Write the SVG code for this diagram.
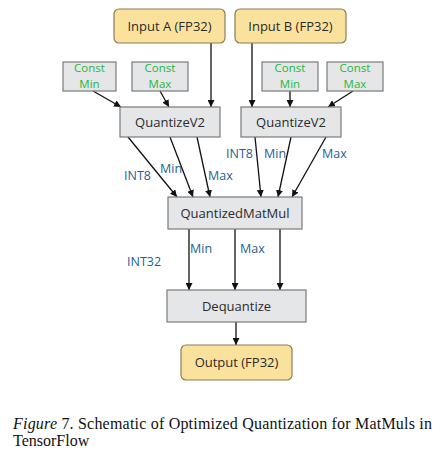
<svg xmlns="http://www.w3.org/2000/svg" width="447" height="464" viewBox="0 0 447 464">
<style>
.io{fill:#fbe29c;stroke:#8a7d5c;stroke-width:1.2}
.op{fill:#e4e6e8;stroke:#7a7a7a;stroke-width:1.2}
.t{font-family:"Open Sans",sans-serif;font-size:13px;fill:#2b2b2b;text-anchor:middle}
.g{font-family:"Open Sans",sans-serif;font-size:11.5px;fill:#1fb83a;text-anchor:middle}
.l{font-family:"Open Sans",sans-serif;font-size:12.5px;fill:#255f95}
.c{font-family:"Liberation Serif",serif;font-size:16px;fill:#111}
.e{stroke:#111;stroke-width:1.3;fill:none;marker-end:url(#a)}
</style>
<defs>
<marker id="a" viewBox="0 0 10 10" refX="10" refY="5" markerWidth="7" markerHeight="7" markerUnits="userSpaceOnUse" orient="auto">
<path d="M0,0 L10,5 L0,10 z" fill="#111"/>
</marker>
</defs>
<rect width="447" height="464" fill="#fff"/>
<g id="connectors">
<line class="e" x1="93" y1="91" x2="121" y2="107"/>
<line class="e" x1="160" y1="91" x2="169" y2="107"/>
<line class="e" x1="211" y1="43" x2="211" y2="107"/>
<line class="e" x1="252" y1="43" x2="252" y2="107"/>
<line class="e" x1="290" y1="91" x2="290" y2="107"/>
<line class="e" x1="353" y1="91" x2="328" y2="107"/>
<line class="e" x1="128" y1="137" x2="177" y2="197"/>
<line class="e" x1="170" y1="137" x2="193" y2="197"/>
<line class="e" x1="197" y1="137" x2="210" y2="197"/>
<line class="e" x1="255" y1="137" x2="261" y2="197"/>
<line class="e" x1="291" y1="137" x2="278" y2="197"/>
<line class="e" x1="326" y1="137" x2="292" y2="197"/>
<line class="e" x1="189" y1="229" x2="189" y2="290"/>
<line class="e" x1="235" y1="229" x2="235" y2="290"/>
<line class="e" x1="280" y1="229" x2="280" y2="290"/>
<line class="e" x1="236" y1="322" x2="236" y2="345"/>
<text class="l" x="124" y="180">INT8</text>
<text class="l" x="160" y="173">Min</text>
<text class="l" x="208" y="180">Max</text>
<text class="l" x="226" y="158">INT8</text>
<text class="l" x="264" y="158">Min</text>
<text class="l" x="322" y="158">Max</text>
<text class="l" x="190" y="253">Min</text>
<text class="l" x="240" y="253">Max</text>
<text class="l" x="127" y="266">INT32</text>
</g>
<g id="inputA"><rect class="io" x="114" y="9" width="111" height="34" rx="5"/><text class="t" x="169.5" y="31">Input A (FP32)</text></g>
<g id="inputB"><rect class="io" x="235" y="9" width="111" height="34" rx="5"/><text class="t" x="290.5" y="31">Input B (FP32)</text></g>
<g id="constMinL"><rect class="op" x="63" y="62" width="53" height="29"/><text class="g" x="89.5" y="72">Const</text><text class="g" x="89.5" y="88">Min</text></g>
<g id="constMaxL"><rect class="op" x="132" y="62" width="56" height="29"/><text class="g" x="160" y="72">Const</text><text class="g" x="160" y="88">Max</text></g>
<g id="constMinR"><rect class="op" x="262" y="62" width="56" height="29"/><text class="g" x="290" y="72">Const</text><text class="g" x="290" y="88">Min</text></g>
<g id="constMaxR"><rect class="op" x="327" y="62" width="56" height="29"/><text class="g" x="355" y="72">Const</text><text class="g" x="355" y="88">Max</text></g>
<g id="quantL"><rect class="op" x="120" y="107" width="100" height="30"/><text class="t" x="170" y="127">QuantizeV2</text></g>
<g id="quantR"><rect class="op" x="241" y="107" width="100" height="30"/><text class="t" x="291" y="127">QuantizeV2</text></g>
<g id="matmul"><rect class="op" x="168" y="197" width="134" height="32"/><text class="t" x="235" y="218">QuantizedMatMul</text></g>
<g id="dequant"><rect class="op" x="167" y="290" width="139" height="32"/><text class="t" x="236.5" y="311">Dequantize</text></g>
<g id="output"><rect class="io" x="181" y="345" width="111" height="35" rx="5"/><text class="t" x="236.5" y="367">Output (FP32)</text></g>
<g id="caption">
<text class="c" x="13" y="429" textLength="419" lengthAdjust="spacing"><tspan font-style="italic">Figure</tspan> 7. Schematic of Optimized Quantization for MatMuls in</text>
<text class="c" x="13" y="446">TensorFlow</text>
</g>
</svg>
